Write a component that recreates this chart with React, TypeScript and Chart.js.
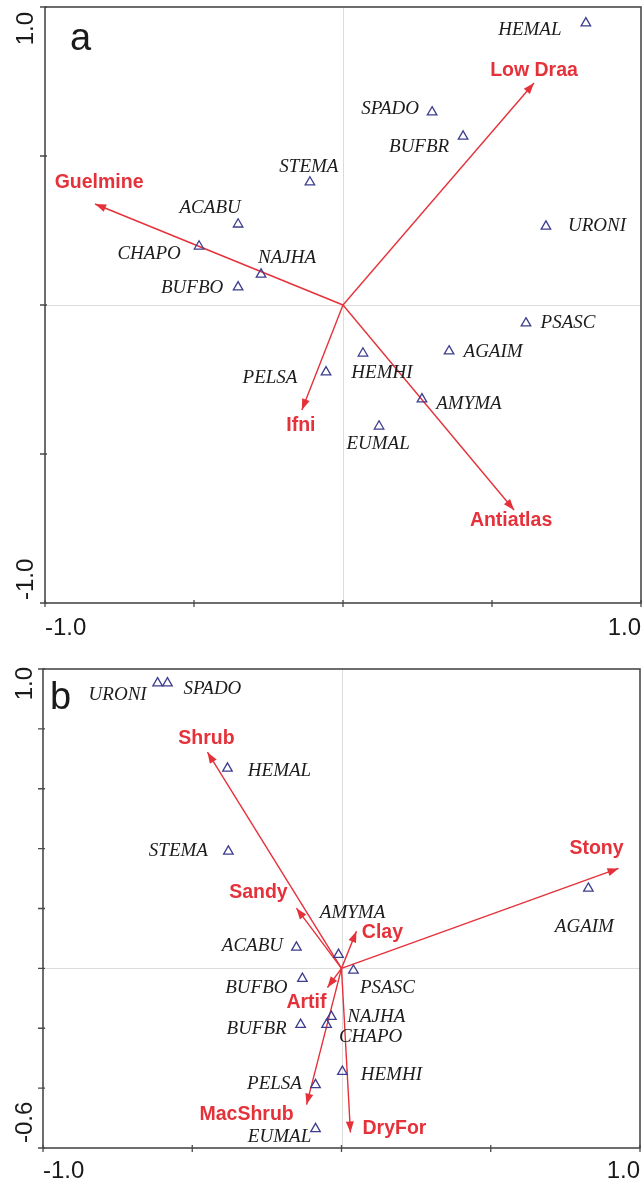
import React, { useEffect, useRef } from "react";
import { Chart, registerables } from "chart.js";

Chart.register(...registerables);

// ---------- Panel a data ----------
const speciesA = ["HEMAL", "SPADO", "BUFBR", "STEMA", "ACABU", "CHAPO", "NAJHA", "BUFBO", "URONI", "PSASC", "AGAIM", "HEMHI", "PELSA", "AMYMA", "EUMAL"];
const speciesAX = [0.815, 0.299, 0.403, -0.111, -0.352, -0.483, -0.275, -0.352, 0.681, 0.614, 0.356, 0.067, -0.057, 0.265, 0.121];
const speciesAY = [0.946, 0.647, 0.566, 0.412, 0.271, 0.197, 0.103, 0.060, 0.264, -0.061, -0.155, -0.162, -0.225, -0.316, -0.407];
const envA = ["Low Draa", "Guelmine", "Ifni", "Antiatlas"];
const envAX = [0.641, -0.832, -0.138, 0.574];
const envAY = [0.745, 0.339, -0.352, -0.688];
const ticksAX = [-1, -0.5, 0, 0.5, 1];
const ticksAY = [-1, -0.5, 0, 0.5, 1];
const tickLabelsAX = ["-1.0", "1.0"];
const tickLabelsAY = ["-1.0", "1.0"];

// ---------- Panel b data ----------
const speciesB = ["URONI", "SPADO", "HEMAL", "STEMA", "AMYMA", "ACABU", "PSASC", "BUFBO", "NAJHA", "CHAPO", "BUFBR", "HEMHI", "PELSA", "EUMAL", "AGAIM"];
const speciesBX = [-0.616, -0.583, -0.382, -0.379, -0.010, -0.151, 0.040, -0.131, -0.034, -0.050, -0.137, 0.003, -0.087, -0.087, 0.827];
const speciesBY = [0.953, 0.953, 0.668, 0.391, 0.046, 0.070, -0.007, -0.034, -0.161, -0.188, -0.188, -0.345, -0.389, -0.536, 0.267];
const envB = ["Shrub", "Sandy", "Clay", "Artif", "MacShrub", "DryFor", "Stony"];
const envBX = [-0.449, -0.151, 0.050, -0.047, -0.117, 0.030, 0.928];
const envBY = [0.722, 0.201, 0.124, -0.064, -0.455, -0.548, 0.334];
const ticksBX = [-1, -0.5, 0, 0.5, 1];
const ticksBY = [-0.6, -0.4, -0.2, 0, 0.2, 0.4, 0.6, 0.8, 1.0];
const tickLabelsBX = ["-1.0", "1.0"];
const tickLabelsBY = ["-0.6", "1.0"];

// ---------- label placement (pixel offsets, styling only) ----------
const speciesOffsetA = [[-56, 7], [-42, -3], [-44, 11], [-1, -15], [-28, -16], [-50, 8], [26, -16], [-46, 1], [51, 0], [42, 0], [44, 1], [19, 20], [-56, 6], [47, 5], [-1, 18]];
const envOffsetA = [[0, -12], [4, -21], [-1, 16], [-3, 11]];
const speciesOffsetB = [[-40, 12], [45, 6], [52, 3], [-50, 0], [14, -42], [-44, -1], [34, 18], [-46, 9], [45, 0], [44, 12], [-44, 4], [49, 3], [-41, -1], [-36, 8], [-4, 39]];
const envOffsetB = [[-1, -14], [-38, -16], [26, 1], [-21, 15], [-60, 10], [44, -4], [-22, -20]];

const RED = "#e5313a";
const BLUE = "#3d3d8e";
const FRAME = "#4a4a4a";

type PanelSpec = {
  letter: string;
  letterX: number;
  letterY: number;
  height: number;
  padTop: number;
  padRight: number;
  yAxisWidth: number;
  xAxisHeight: number;
  yMin: number;
  yMax: number;
  species: string[];
  sx: number[];
  sy: number[];
  sOff: number[][];
  env: string[];
  ex: number[];
  ey: number[];
  eOff: number[][];
  ticksX: number[];
  ticksY: number[];
  labelsX: string[];
  labelsY: string[];
  xLabelBaseline: number;
  yLabelBaseline: number;
  yMaxLabelShift: number;
  yMinLabelShift: number;
};

const panelA: PanelSpec = {
  letter: "a", letterX: 70, letterY: 50, height: 640, padTop: 7, padRight: 2, yAxisWidth: 45, xAxisHeight: 37,
  yMin: -1, yMax: 1,
  species: speciesA, sx: speciesAX, sy: speciesAY, sOff: speciesOffsetA,
  env: envA, ex: envAX, ey: envAY, eOff: envOffsetA,
  ticksX: ticksAX, ticksY: ticksAY, labelsX: tickLabelsAX, labelsY: tickLabelsAY,
  xLabelBaseline: 635, yLabelBaseline: 33, yMaxLabelShift: 5, yMinLabelShift: -3,
};

const panelB: PanelSpec = {
  letter: "b", letterX: 50, letterY: 69, height: 544, padTop: 29, padRight: 3, yAxisWidth: 43, xAxisHeight: 36,
  yMin: -0.6, yMax: 1,
  species: speciesB, sx: speciesBX, sy: speciesBY, sOff: speciesOffsetB,
  env: envB, ex: envBX, ey: envBY, eOff: envOffsetB,
  ticksX: ticksBX, ticksY: ticksBY, labelsX: tickLabelsBX, labelsY: tickLabelsBY,
  xLabelBaseline: 538, yLabelBaseline: 32, yMaxLabelShift: -2, yMinLabelShift: -5,
};

function makePlugin(p: PanelSpec) {
  return {
    id: "ordination_" + p.letter,
    beforeDatasetsDraw(chart: any) {
      const { ctx, chartArea: ca, scales } = chart;
      const x0 = scales.x.getPixelForValue(0);
      const y0 = scales.y.getPixelForValue(0);
      ctx.save();
      ctx.strokeStyle = "#dcdcdc";
      ctx.lineWidth = 1;
      ctx.beginPath();
      ctx.moveTo(Math.round(x0) + 0.5, ca.top);
      ctx.lineTo(Math.round(x0) + 0.5, ca.bottom);
      ctx.moveTo(ca.left, Math.round(y0) + 0.5);
      ctx.lineTo(ca.right, Math.round(y0) + 0.5);
      ctx.stroke();
      ctx.restore();
    },
    afterDatasetsDraw(chart: any) {
      const ctx = chart.ctx;
      ctx.save();
      // arrow heads
      for (let i = 0; i < p.env.length; i++) {
        const meta = chart.getDatasetMeta(i + 1);
        const a = meta.data[0];
        const b = meta.data[1];
        const ang = Math.atan2(b.y - a.y, b.x - a.x);
        const L = 11, W = 4;
        const bx = b.x - L * Math.cos(ang);
        const by = b.y - L * Math.sin(ang);
        ctx.fillStyle = RED;
        ctx.beginPath();
        ctx.moveTo(b.x, b.y);
        ctx.lineTo(bx + W * Math.sin(ang), by - W * Math.cos(ang));
        ctx.lineTo(bx - W * Math.sin(ang), by + W * Math.cos(ang));
        ctx.closePath();
        ctx.fill();
        // env label
        ctx.font = 'bold 19.5px "Liberation Sans", Arial, sans-serif';
        ctx.textAlign = "center";
        ctx.textBaseline = "middle";
        ctx.fillText(p.env[i], b.x + p.eOff[i][0], b.y + p.eOff[i][1]);
      }
      // species labels
      const sm = chart.getDatasetMeta(0);
      ctx.fillStyle = "#1c1c1c";
      ctx.font = 'italic 19px "Liberation Serif", "Times New Roman", serif';
      ctx.textAlign = "center";
      ctx.textBaseline = "middle";
      for (let j = 0; j < p.species.length; j++) {
        const pt = sm.data[j];
        ctx.fillText(p.species[j], pt.x + p.sOff[j][0], pt.y + p.sOff[j][1]);
      }
      ctx.restore();
    },
    afterDraw(chart: any) {
      const { ctx, chartArea: ca, scales } = chart;
      ctx.save();
      // frame
      ctx.strokeStyle = FRAME;
      ctx.lineWidth = 1.6;
      ctx.strokeRect(ca.left, ca.top, ca.right - ca.left, ca.bottom - ca.top);
      // ticks
      ctx.lineWidth = 1.3;
      ctx.beginPath();
      for (const v of p.ticksX) {
        const px = scales.x.getPixelForValue(v);
        ctx.moveTo(px, ca.bottom - 3);
        ctx.lineTo(px, ca.bottom + 4);
      }
      for (const v of p.ticksY) {
        const py = scales.y.getPixelForValue(v);
        ctx.moveTo(ca.left - 5, py);
        ctx.lineTo(ca.left + 2, py);
      }
      ctx.stroke();
      // tick labels
      ctx.fillStyle = "#1a1a1a";
      ctx.font = '24px "Liberation Sans", Arial, sans-serif';
      ctx.textBaseline = "alphabetic";
      ctx.textAlign = "left";
      ctx.fillText(p.labelsX[0], scales.x.getPixelForValue(p.ticksX[0]), p.xLabelBaseline);
      ctx.textAlign = "right";
      ctx.fillText(p.labelsX[1], scales.x.getPixelForValue(p.ticksX[p.ticksX.length - 1]), p.xLabelBaseline);
      // y labels rotated
      const yBottom = scales.y.getPixelForValue(p.yMin);
      const yTop = scales.y.getPixelForValue(p.yMax);
      ctx.save();
      ctx.translate(p.yLabelBaseline, yBottom + p.yMinLabelShift);
      ctx.rotate(-Math.PI / 2);
      ctx.textAlign = "left";
      ctx.fillText(p.labelsY[0], 0, 0);
      ctx.restore();
      ctx.save();
      ctx.translate(p.yLabelBaseline, yTop + p.yMaxLabelShift);
      ctx.rotate(-Math.PI / 2);
      ctx.textAlign = "right";
      ctx.fillText(p.labelsY[1], 0, 0);
      ctx.restore();
      // panel letter
      ctx.font = '38px "Liberation Sans", Arial, sans-serif';
      ctx.textAlign = "left";
      ctx.fillText(p.letter, p.letterX, p.letterY);
      ctx.restore();
    },
  };
}

function buildConfig(p: PanelSpec): any {
  const datasets: any[] = [
    {
      label: "species",
      data: p.sx.map((x, i) => ({ x, y: p.sy[i] })),
      pointStyle: "triangle",
      pointRadius: 5.5,
      borderColor: BLUE,
      backgroundColor: "rgba(0,0,0,0)",
      borderWidth: 1.3,
      showLine: false,
    },
  ];
  for (let i = 0; i < p.env.length; i++) {
    datasets.push({
      label: p.env[i],
      data: [
        { x: 0, y: 0 },
        { x: p.ex[i], y: p.ey[i] },
      ],
      showLine: true,
      borderColor: RED,
      borderWidth: 1.4,
      pointRadius: 0,
      fill: false,
    });
  }
  return {
    type: "scatter",
    data: { datasets },
    options: {
      animation: false,
      responsive: false,
      events: [],
      layout: { autoPadding: false, padding: { top: p.padTop, right: p.padRight, left: 0, bottom: 0 } },
      plugins: { legend: { display: false }, tooltip: { enabled: false } },
      scales: {
        x: {
          type: "linear",
          min: -1,
          max: 1,
          ticks: { display: false },
          grid: { display: false },
          border: { display: false },
          afterFit: (s: any) => {
            s.height = p.xAxisHeight;
          },
        },
        y: {
          type: "linear",
          min: p.yMin,
          max: p.yMax,
          ticks: { display: false },
          grid: { display: false },
          border: { display: false },
          afterFit: (s: any) => {
            s.width = p.yAxisWidth;
          },
        },
      },
    },
    plugins: [makePlugin(p)],
  };
}

function Panel({ spec }: { spec: PanelSpec }) {
  const ref = useRef<HTMLCanvasElement | null>(null);
  useEffect(() => {
    if (!ref.current) return;
    const chart = new Chart(ref.current, buildConfig(spec));
    return () => chart.destroy();
  }, [spec]);
  return (
    <canvas
      ref={ref}
      width={643}
      height={spec.height}
      style={{ display: "block", width: 643, height: spec.height }}
    />
  );
}

export default function App() {
  return (
    <div style={{ position: "absolute", left: 0, top: 0, width: 643, height: 1184, background: "#fff" }}>
      <Panel spec={panelA} />
      <Panel spec={panelB} />
    </div>
  );
}
